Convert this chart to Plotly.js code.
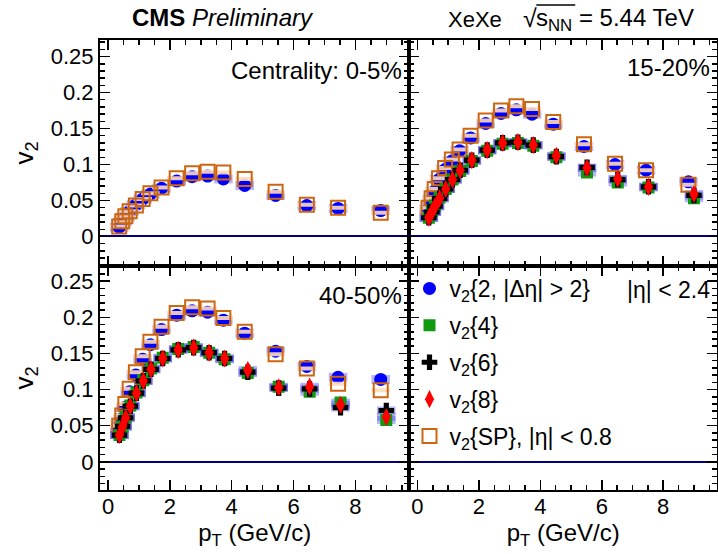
<!DOCTYPE html>
<html>
<head>
<meta charset="utf-8">
<script src="https://cdn.plot.ly/plotly-3.0.1.min.js"></script>
<style>html,body{margin:0;padding:0;background:#fff}#plot{width:718px;height:554px}</style>
</head>
<body>
<div id="plot"></div>
<script>
// pT bin positions (GeV/c)
const ptTwo = [0.36,0.46,0.56,0.70,0.90,1.12,1.37,1.73,2.22,2.72,3.22,3.73,4.42,5.42,6.43,7.44,8.82];
const ptCum = [0.37,0.47,0.57,0.72,0.92,1.14,1.39,1.77,2.27,2.77,3.27,3.77,4.52,5.52,6.52,7.52,9.00];

// Centrality 0-5%
const c0_5_v22 = [0.013,0.020,0.027,0.035,0.044,0.052,0.059,0.067,0.077,0.083,0.084,0.080,0.071,0.057,0.043,0.039,0.036];
const c0_5_SP  = [0.014,0.021,0.028,0.035,0.043,0.052,0.060,0.068,0.081,0.088,0.090,0.089,0.080,0.062,0.044,0.040,0.033];

// Centrality 15-20%
const c15_20_v22 = [0.038,0.051,0.063,0.079,0.093,0.105,0.119,0.137,0.157,0.171,0.176,0.170,0.156,0.125,0.100,0.092,0.076];
const c15_20_SP  = [0.040,0.053,0.066,0.081,0.095,0.107,0.121,0.140,0.161,0.175,0.181,0.177,0.159,0.128,0.101,0.092,0.072];
const c15_20_v24 = [0.026,0.035,0.043,0.054,0.066,0.079,0.091,0.105,0.119,0.129,0.130,0.126,0.110,0.089,0.075,0.068,0.053];
const c15_20_v26 = [0.026,0.034,0.042,0.053,0.066,0.079,0.092,0.106,0.120,0.130,0.131,0.127,0.111,0.096,0.079,0.069,0.057];
const c15_20_v28 = [0.026,0.034,0.042,0.053,0.066,0.079,0.092,0.106,0.120,0.130,0.131,0.127,0.112,0.095,0.080,0.069,0.059];

// Centrality 40-50%
const c40_50_v22 = [0.046,0.060,0.075,0.097,0.120,0.142,0.162,0.183,0.203,0.209,0.207,0.196,0.178,0.153,0.132,0.117,0.114];
const c40_50_SP  = [0.050,0.064,0.080,0.101,0.124,0.146,0.166,0.187,0.206,0.214,0.212,0.199,0.180,0.149,0.129,0.108,0.099];
const c40_50_v24 = [0.037,0.049,0.062,0.078,0.096,0.113,0.129,0.144,0.156,0.159,0.151,0.142,0.123,0.104,0.097,0.082,0.058];
const c40_50_v26 = [0.037,0.049,0.061,0.077,0.095,0.112,0.128,0.143,0.155,0.158,0.151,0.143,0.124,0.102,0.101,0.075,0.071];
const c40_50_v28 = [0.037,0.049,0.061,0.077,0.095,0.112,0.128,0.143,0.155,0.158,0.151,0.143,0.127,0.103,0.104,0.079,0.062];

const seriesNames = {
  v22: 'v<sub>2</sub>{2, |Δη| > 2}',
  v24: 'v<sub>2</sub>{4}',
  v26: 'v<sub>2</sub>{6}',
  v28: 'v<sub>2</sub>{8}',
  SP:  'v<sub>2</sub>{SP}, |η| < 0.8'
};

const FONT = 'Liberation Sans, Arial, Helvetica, sans-serif';
const LAV = 'rgba(80,80,240,0.42)';
const styles = {
  v22: {symbol:'circle', size:13, color:'#0000ff', box:LAV, thick:9, rank:1},
  v24: {symbol:'square', size:12, color:'#119911', box:LAV, thick:8, rank:2},
  v26: {symbol:'cross', size:13, color:'#000000', box:LAV, thick:8, rank:3},
  v28: {symbol:'diamond-tall', size:13, color:'#ff0000', box:LAV, thick:8, rank:4},
  SP:  {symbol:'square-open', size:14, color:'#cc6611', box:'rgba(255,218,185,0.9)', thick:4, rank:5}
};

const panels = [
  {xa:'x', ya:'y', data:{v22:[ptTwo,c0_5_v22], SP:[ptTwo,c0_5_SP]}},
  {xa:'x2', ya:'y2', data:{v22:[ptTwo,c15_20_v22], SP:[ptTwo,c15_20_SP], v24:[ptCum,c15_20_v24], v26:[ptCum,c15_20_v26], v28:[ptCum,c15_20_v28]}},
  {xa:'x3', ya:'y3', data:{v22:[ptTwo,c40_50_v22], SP:[ptTwo,c40_50_SP], v24:[ptCum,c40_50_v24], v26:[ptCum,c40_50_v26], v28:[ptCum,c40_50_v28]}}
];

const traces = [];
const shown = {};
function boxTrace(p, k) {
  const st = styles[k];
  return {
    x: p.data[k][0], y: p.data[k][1], xaxis: p.xa, yaxis: p.ya,
    type:'scatter', mode:'markers', showlegend:false, hoverinfo:'skip',
    marker:{size:1, color:'rgba(0,0,0,0)'},
    error_x:{type:'constant', value:0.3, thickness:st.thick, width:0, color:st.box}
  };
}
function markTrace(p, k) {
  const st = styles[k];
  const first = !shown[k]; shown[k] = true;
  return {
    x: p.data[k][0], y: p.data[k][1], xaxis: p.xa, yaxis: p.ya,
    type:'scatter', mode:'markers', name: seriesNames[k],
    showlegend: first, legendgroup: k, legendrank: st.rank,
    marker: k === 'SP'
      ? {symbol: st.symbol, size: st.size, color: st.color, line:{color: st.color, width:2}}
      : {symbol: st.symbol, size: st.size, color: st.color, line:{width:0}}
  };
}
panels.forEach(p => {
  ['v22','v24','v26','v28'].forEach(k => { if (p.data[k]) traces.push(boxTrace(p, k)); });
});
panels.forEach(p => {
  traces.push(markTrace(p, 'v22'));
  traces.push(boxTrace(p, 'SP'));
  traces.push(markTrace(p, 'SP'));
  ['v24','v26','v28'].forEach(k => { if (p.data[k]) traces.push(markTrace(p, k)); });
});
traces.push({x:[], y:[], xaxis:'x4', yaxis:'y4', type:'scatter', mode:'markers', showlegend:false});

const xD = [[0, 0.5016],[0.5016, 1]];
const yD = [[0.4978, 1],[0, 0.4978]];
function xAxis(dom, anchor, labels) {
  return {domain: dom, anchor: anchor, range:[-0.26, 9.75], tick0:0, dtick:2,
    ticks:'inside', ticklen:10, tickwidth:1.5, tickcolor:'#000', ticklabelstandoff:-4,
    minor:{ticks:'inside', ticklen:5, dtick:0.5, tickwidth:1.5, tickcolor:'#000', showgrid:false},
    showline:true, linewidth:2, linecolor:'#000', mirror:'allticks',
    showgrid:false, zeroline:false, showticklabels: labels,
    tickfont:{family:FONT, size:22, color:'#000'},
    title: labels ? {text:'p<sub>T</sub> (GeV/c)', font:{family:FONT, size:24, color:'#000'}, standoff:0} : {text:''}};
}
function yAxis(dom, anchor, labels, rng) {
  return {domain: dom, anchor: anchor, range: rng, tick0:0, dtick:0.05,
    ticks:'inside', ticklen:10, tickwidth:1.5, tickcolor:'#000',
    minor:{ticks:'inside', ticklen:5, dtick:0.01, tickwidth:1.5, tickcolor:'#000', showgrid:false},
    showline:true, linewidth:2, linecolor:'#000', mirror:'allticks',
    showgrid:false, zeroline:true, zerolinecolor:'#000080', zerolinewidth:2,
    showticklabels: labels,
    tickfont:{family:FONT, size:22, color:'#000'},
    title: labels ? {text:'v<sub>2</sub>', font:{family:FONT, size:26, color:'#000'}, standoff:10} : {text:''}};
}
const rTop = [-0.041, 0.273], rBot = [-0.039, 0.271];

const px = v => (v - 100) / 618;
const py = v => 1 - (v - 40) / 450;

const layout = {
  width:718, height:554,
  margin:{l:100, r:1, t:40, b:64},
  paper_bgcolor:'#fff', plot_bgcolor:'#fff',
  font:{family:FONT, color:'#000'},
  xaxis: xAxis(xD[0], 'y', false),
  yaxis: yAxis(yD[0], 'x', true, rTop),
  xaxis2: xAxis(xD[1], 'y2', false),
  yaxis2: yAxis(yD[0], 'x2', false, rTop),
  xaxis3: xAxis(xD[0], 'y3', true),
  yaxis3: yAxis(yD[1], 'x3', true, rBot),
  xaxis4: xAxis(xD[1], 'y4', true),
  yaxis4: yAxis(yD[1], 'x4', false, rBot),
  showlegend:true,
  legend:{x: px(410), y: py(267), xanchor:'left', yanchor:'top', bgcolor:'rgba(0,0,0,0)',
    font:{family:FONT, size:23, color:'#000'}, tracegroupgap:4, itemwidth:30, traceorder:'grouped'},
  shapes:[
    {type:'line', xref:'paper', yref:'paper', x0:px(537), x1:px(576), y0:py(5), y1:py(5), line:{color:'#000', width:1.5}}
  ],
  annotations:[
    {xref:'paper', yref:'paper', x:px(223), y:py(17), text:'<b>CMS</b> <i>Preliminary</i>', showarrow:false, font:{family:FONT, size:24}, xanchor:'center', yanchor:'middle'},
    {xref:'paper', yref:'paper', x:px(447), y:py(19), text:'XeXe', showarrow:false, font:{family:FONT, size:22}, xanchor:'left', yanchor:'middle'},
    {xref:'paper', yref:'paper', x:px(540), y:py(18), text:'√', showarrow:false, font:{family:FONT, size:25}, xanchor:'right', yanchor:'middle'},
    {xref:'paper', yref:'paper', x:px(535), y:py(19), text:'s<sub>NN</sub> = 5.44 TeV', showarrow:false, font:{family:FONT, size:24}, xanchor:'left', yanchor:'middle'},
    {xref:'paper', yref:'paper', x:px(404), y:py(70), text:'Centrality: 0-5%', showarrow:false, font:{family:FONT, size:24}, xanchor:'right', yanchor:'middle'},
    {xref:'paper', yref:'paper', x:px(713), y:py(68), text:'15-20%', showarrow:false, font:{family:FONT, size:24}, xanchor:'right', yanchor:'middle'},
    {xref:'paper', yref:'paper', x:px(404), y:py(295), text:'40-50%', showarrow:false, font:{family:FONT, size:24}, xanchor:'right', yanchor:'middle'},
    {xref:'paper', yref:'paper', x:px(713), y:py(290), text:'|η| < 2.4', showarrow:false, font:{family:FONT, size:23}, xanchor:'right', yanchor:'middle'}
  ]
};

Plotly.newPlot('plot', traces, layout, {staticPlot:true});
</script>
</body>
</html>
